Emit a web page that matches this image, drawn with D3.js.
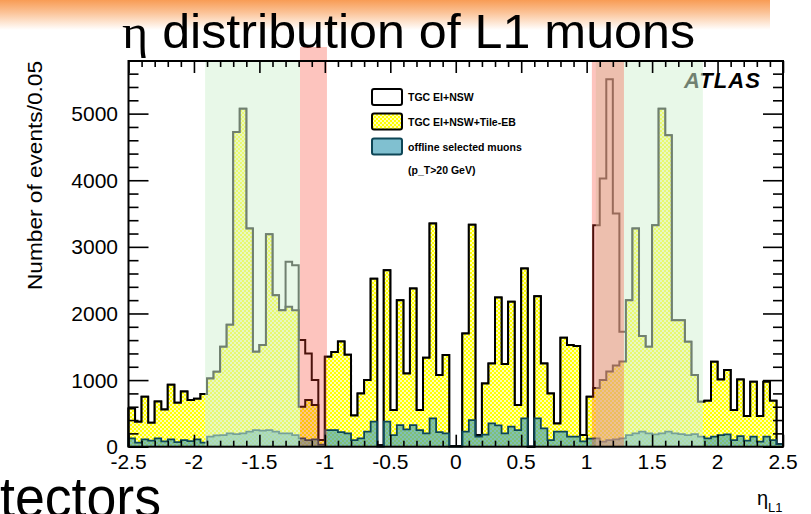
<!DOCTYPE html>
<html><head><meta charset="utf-8">
<script src="https://cdn.jsdelivr.net/npm/d3@7"></script>
<style>
body{margin:0;background:#fff}
svg{display:block}
text{font-family:"Liberation Sans",Arial,Helvetica,sans-serif}
</style></head>
<body><svg id="c" width="811" height="514"></svg>
<script>
// ---------------- data ----------------
const etaMin = -2.5, etaMax = 2.5, binWidth = 0.05;
// TGC EI+NSW (black outline)
const tgcEiNsw = [575,375,750,360,680,560,930,660,830,700,
  720,790,1025,1125,1500,1830,4725,5075,3275,1425,
  1525,3190,2275,2050,2775,2725,1600,1400,1000,100,
  1350,1420,1580,1380,470,800,1000,2520,20,2650,
  550,2200,1100,2375,550,1335,3350,1075,1375,10,
  10,1700,3330,175,950,1250,2240,1240,2175,625,
  2675,0,2260,1250,800,350,1635,1525,1510,175,
  750,3325,4025,5515,3500,1725,2200,3275,1660,1500,
  3325,5075,4675,1900,1900,1575,1075,675,690,1275,
  1010,1150,550,1010,460,975,460,975,690,40];
// TGC EI+NSW+Tile-EB (yellow hatched)
const tgcEiNswTile = [575,375,750,360,680,560,930,660,830,700,
  720,790,1025,1125,1500,1830,4725,5075,3275,1425,
  1525,3190,2275,2050,2100,2050,600,700,625,100,
  1350,1420,1580,1380,470,800,1000,2520,20,2650,
  550,2200,1100,2375,550,1335,3350,1075,1375,10,
  10,1700,3330,175,950,1250,2240,1240,2175,625,
  2675,0,2260,1250,800,350,1635,1525,1510,175,
  750,880,1000,1130,1220,1280,2200,3275,1660,1500,
  3325,5075,4675,1900,1900,1575,1075,675,690,1275,
  1010,1150,550,1010,460,975,460,975,690,40];
// offline selected muons (teal)
const offlineMuons = [125,60,110,90,125,80,110,70,100,85,
  110,60,150,170,175,200,190,200,225,250,
  240,250,225,200,200,175,125,100,110,30,
  250,250,220,200,100,125,225,375,0,375,
  175,325,260,325,250,200,425,220,200,0,
  0,225,400,150,180,350,320,200,300,250,
  425,0,425,275,100,225,225,150,150,80,
  120,125,75,100,110,125,175,200,225,200,
  185,200,225,200,190,175,190,150,125,150,
  175,185,100,160,90,150,75,150,100,40];
const yTickValues = [0,1000,2000,3000,4000,5000];
const xTickValues = [-2.5,-2,-1.5,-1,-0.5,0,0.5,1,1.5,2,2.5];
const xTickLabels = ["-2.5","-2","-1.5","-1","-0.5","0","0.5","1","1.5","2","2.5"];
const greenRegions = [[-1.915,-1.19],[1.07,1.888]];
const redRegions = [[-1.19,-0.984],[1.04,1.285]];
const legendLabels = ["TGC EI+NSW","TGC EI+NSW+Tile-EB","offline selected muons"];

// ---------------- chart ----------------
const svg = d3.select("#c");
const L = 128.5, R = 783, T = 61, B = 446.7;
const x = d3.scaleLinear().domain([etaMin, etaMax]).range([L, R]);
const y = d3.scaleLinear().domain([0, 5790]).range([B, T]);

const defs = svg.append("defs");
const tg = defs.append("linearGradient").attr("id","titleGrad").attr("x1",0).attr("y1",0).attr("x2",0).attr("y2",1);
tg.append("stop").attr("offset","0%").attr("stop-color","#f89c55");
tg.append("stop").attr("offset","40%").attr("stop-color","#fbc194");
tg.append("stop").attr("offset","100%").attr("stop-color","#ffffff");
const pat = defs.append("pattern").attr("id","hatch").attr("patternUnits","userSpaceOnUse")
  .attr("width",4).attr("height",4);
pat.append("rect").attr("width",4).attr("height",4).attr("fill","#ffff00");
pat.append("circle").attr("cx",1).attr("cy",1).attr("r",0.95).attr("fill","#ffffff");
pat.append("circle").attr("cx",3).attr("cy",3).attr("r",0.95).attr("fill","#ffffff");

// title band
svg.append("rect").attr("x",0).attr("y",0).attr("width",770).attr("height",30).attr("fill","url(#titleGrad)");
svg.append("text").attr("x",408.5).attr("y",48).attr("text-anchor","middle")
  .attr("font-size",48).attr("fill","#000").attr("textLength",573).attr("lengthAdjust","spacingAndGlyphs")
  .call(t=>{t.append("tspan").attr("font-family","'Liberation Serif',serif").text("η");
            t.append("tspan").text(" distribution of L1 muons");});

// histogram helpers
function pts(vals){
  const p = [[etaMin,0]];
  vals.forEach((v,i)=>p.push([etaMin+i*binWidth, v]));
  p.push([etaMax, vals[vals.length-1]]);
  p.push([etaMax, 0]);
  return p;
}
const area = d3.area().x(d=>x(d[0])).y0(y(0)).y1(d=>y(d[1])).curve(d3.curveStepAfter);
const line = d3.line().x(d=>x(d[0])).y(d=>y(d[1])).curve(d3.curveStepAfter);

const g = svg.append("g");
g.append("path").attr("d", line(pts(tgcEiNsw))).attr("fill","none").attr("stroke","#000").attr("stroke-width",2);
g.append("path").attr("d", area(pts(tgcEiNswTile))).attr("fill","url(#hatch)");
g.append("path").attr("d", line(pts(tgcEiNswTile))).attr("fill","none").attr("stroke","#000").attr("stroke-width",2);
g.append("path").attr("d", area(pts(offlineMuons))).attr("fill","rgb(60,158,183)").attr("fill-opacity",0.65);
g.append("path").attr("d", line(pts(offlineMuons))).attr("fill","none").attr("stroke","#0e4656").attr("stroke-width",1.8);

// ATLAS label
svg.append("text").attr("x",684).attr("y",88).attr("font-size",22).attr("font-weight","bold")
  .attr("font-style","italic").attr("textLength",76).text("ATLAS");

// legend
const lg = svg.append("g");
const legY = [97, 121.5, 146.5];
lg.selectAll("rect.box").data(legendLabels).join("rect").attr("class","box")
  .attr("x",372).attr("y",(d,i)=>legY[i]-8).attr("width",30).attr("height",16).attr("rx",2)
  .attr("fill",(d,i)=>i===0?"#fff":i===1?"url(#hatch)":"rgb(60,158,183)")
  .attr("fill-opacity",(d,i)=>i===2?0.65:1)
  .attr("stroke",(d,i)=>i===2?"#0e4656":"#000").attr("stroke-width",2);
lg.selectAll("text.lab").data(legendLabels.concat(["(p_T>20 GeV)"])).join("text").attr("class","lab")
  .attr("x",408).attr("y",(d,i)=>i<3?legY[i]+4:174).attr("font-size",10.5).attr("font-weight","bold").text(d=>d);

// overlays
svg.selectAll("rect.green").data(greenRegions).join("rect").attr("class","green")
  .attr("x",d=>x(d[0])).attr("width",d=>x(d[1])-x(d[0])).attr("y",T).attr("height",B-T)
  .attr("fill","rgb(211,242,211)").attr("fill-opacity",0.53);
svg.selectAll("rect.red").data(redRegions).join("rect").attr("class","red")
  .attr("x",d=>x(d[0])).attr("width",d=>x(d[1])-x(d[0]))
  .attr("y",(d,i)=>i===0?47:T).attr("height",(d,i)=>B-(i===0?47:T))
  .attr("fill","rgb(250,60,40)").attr("fill-opacity",0.3);

// axes ticks
const minorX = d3.range(-25,26).map(v=>v/10).filter(v=>Math.abs(v*2-Math.round(v*2))>1e-6);
const minorY = d3.range(0,5790,200).filter(v=>v%1000!==0);
function ticks(sel){ sel.select(".domain").remove(); sel.selectAll("line").attr("stroke","#000").attr("stroke-width",1.6); }
svg.append("g").attr("transform",`translate(0,${B})`).call(d3.axisBottom(x).tickValues(xTickValues).tickSize(-12).tickFormat("")).call(ticks);
svg.append("g").attr("transform",`translate(0,${B})`).call(d3.axisBottom(x).tickValues(minorX).tickSize(-6).tickFormat("")).call(ticks);
svg.append("g").attr("transform",`translate(0,${T})`).call(d3.axisTop(x).tickValues(xTickValues).tickSize(-12).tickFormat("")).call(ticks);
svg.append("g").attr("transform",`translate(0,${T})`).call(d3.axisTop(x).tickValues(minorX).tickSize(-6).tickFormat("")).call(ticks);
svg.append("g").attr("transform",`translate(${L},0)`).call(d3.axisLeft(y).tickValues(yTickValues).tickSize(-20).tickFormat("")).call(ticks);
svg.append("g").attr("transform",`translate(${L},0)`).call(d3.axisLeft(y).tickValues(minorY).tickSize(-10).tickFormat("")).call(ticks);
svg.append("g").attr("transform",`translate(${R},0)`).call(d3.axisRight(y).tickValues(yTickValues).tickSize(-20).tickFormat("")).call(ticks);
svg.append("g").attr("transform",`translate(${R},0)`).call(d3.axisRight(y).tickValues(minorY).tickSize(-10).tickFormat("")).call(ticks);
svg.append("rect").attr("x",L).attr("y",T).attr("width",R-L).attr("height",B-T).attr("fill","none").attr("stroke","#000").attr("stroke-width",2);

// tick labels
svg.selectAll("text.xl").data(xTickValues).join("text").attr("class","xl")
  .attr("x",d=>x(d)).attr("y",469).attr("text-anchor","middle").attr("font-size",21).text((d,i)=>xTickLabels[i]);
svg.selectAll("text.yl").data(yTickValues).join("text").attr("class","yl")
  .attr("x",118).attr("y",d=>y(d)+7.5).attr("text-anchor","end").attr("font-size",21).text(d=>String(d));

// axis titles
svg.append("text").attr("transform","translate(42,61) rotate(-90)").attr("text-anchor","end")
  .attr("font-size",21).attr("textLength",229).attr("lengthAdjust","spacingAndGlyphs").text("Number of events/0.05");
svg.append("text").attr("x",757).attr("y",505).attr("font-size",20).attr("font-family","'Liberation Serif',serif").text("η");
svg.append("text").attr("x",768).attr("y",512).attr("font-size",13).text("L1");

// slide fragment
svg.append("text").attr("x",0).attr("y",517).attr("font-size",57).attr("textLength",161)
  .attr("lengthAdjust","spacingAndGlyphs").text("tectors");
</script>
</body></html>
